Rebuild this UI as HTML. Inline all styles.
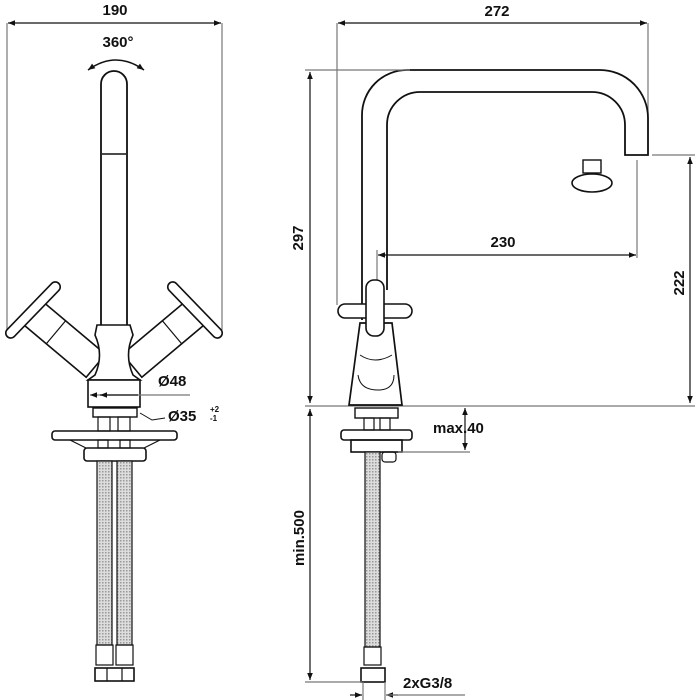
<!DOCTYPE html>
<html><head><meta charset="utf-8"><style>
html,body{margin:0;padding:0;background:#fff}
svg{display:block}
text{font-family:"Liberation Sans",Arial,sans-serif;font-weight:bold;fill:#111}
</style></head><body>
<svg width="700" height="700" viewBox="0 0 700 700" xmlns="http://www.w3.org/2000/svg">
<defs>
<pattern id="braid" width="3" height="3" patternUnits="userSpaceOnUse">
<rect width="3" height="3" fill="#ddd"/><rect width="1.5" height="1.5" fill="#999"/></pattern>
<marker id="ah" viewBox="0 0 10 10" refX="10" refY="5" markerWidth="9" markerHeight="7" orient="auto-start-reverse" markerUnits="userSpaceOnUse"><path d="M0,1 L10,5 L0,9 z" fill="#111"/></marker>
</defs>
<g stroke="#111" fill="none" stroke-width="1.2">
<!-- LEFT VIEW dims -->
<line x1="7" y1="23" x2="7" y2="330" stroke="#777"/>
<line x1="222" y1="23" x2="222" y2="330" stroke="#777"/>
<line x1="8" y1="23" x2="221" y2="23" marker-start="url(#ah)" marker-end="url(#ah)"/>
<path d="M88,70 Q116,50 144,70" stroke-width="1.5" marker-start="url(#ah)" marker-end="url(#ah)"/>
<!-- spout -->
<path d="M101,325 L101,84 A13,13 0 0 1 127,84 L127,325" stroke-width="1.8"/>
<line x1="102" y1="154" x2="126" y2="154" stroke-width="1.5"/>
<!-- left arm + handle -->
<g transform="translate(33,313) rotate(40)"><rect x="0" y="-15" width="82" height="30" fill="#fff" stroke-width="1.6"/><line x1="30" y1="-15" x2="30" y2="15"/></g>
<g transform="translate(33,310) rotate(-46)"><rect x="-37" y="-5" width="74" height="10" rx="5" fill="#fff" stroke-width="1.6"/></g>
<g transform="translate(195,313) rotate(140)"><rect x="0" y="-15" width="82" height="30" fill="#fff" stroke-width="1.6"/><line x1="30" y1="-15" x2="30" y2="15"/></g>
<g transform="translate(195,310) rotate(46)"><rect x="-37" y="-5" width="74" height="10" rx="5" fill="#fff" stroke-width="1.6"/></g>
<!-- body -->
<path d="M97,325 L130,325 L133,335 Q124,355 133,375 L140,380 L88,380 L95,375 Q104,355 95,335 Z" stroke-width="1.6" fill="#fff"/>
<rect x="88" y="380" width="52" height="27" stroke-width="1.6" fill="#fff"/>
<line x1="90" y1="395" x2="190" y2="395" stroke="#777" marker-start="url(#ah)"/>
<line x1="138" y1="395" x2="100" y2="395" marker-end="url(#ah)"/>
<rect x="93" y="408" width="44" height="9" stroke-width="1.4"/>
<rect x="98" y="417" width="12" height="14"/><rect x="118" y="417" width="12" height="14"/>
<rect x="52" y="431" width="125" height="9" rx="3" stroke-width="1.6"/>
<path d="M70,440 L86,448 M160,440 L144,448"/>
<rect x="98" y="440" width="10" height="8"/><rect x="120" y="440" width="10" height="8"/>
<rect x="84" y="448" width="62" height="13" rx="3" stroke-width="1.6"/>
<rect x="97" y="461" width="15" height="184" fill="url(#braid)"/>
<rect x="117" y="461" width="15" height="184" fill="url(#braid)"/>
<rect x="96" y="645" width="17" height="20"/><rect x="116" y="645" width="17" height="20"/>
<rect x="95" y="668" width="39" height="13" stroke-width="1.6"/>
<line x1="107" y1="668" x2="107" y2="681"/><line x1="122" y1="668" x2="122" y2="681"/>
<path d="M140,413 L152,420 L165,418" stroke-width="1"/>

<!-- RIGHT VIEW -->
<line x1="337" y1="23" x2="337" y2="305" stroke="#777"/>
<line x1="648" y1="23" x2="648" y2="153" stroke="#777"/>
<line x1="338" y1="23" x2="647" y2="23" marker-start="url(#ah)" marker-end="url(#ah)"/>
<path d="M362,320 L362,115 A45,45 0 0 1 407,70 L600,70 A48,48 0 0 1 648,118 L648,155 L625,155 L625,125 A33,33 0 0 0 592,92 L420,92 A33,33 0 0 0 387,125 L387,290" stroke-width="1.8"/>
<line x1="652" y1="155" x2="695" y2="155" stroke="#777"/>
<line x1="637" y1="160" x2="637" y2="258" stroke="#777"/>
<line x1="377" y1="250" x2="377" y2="282" stroke="#777"/>
<line x1="378" y1="255" x2="636" y2="255" marker-start="url(#ah)" marker-end="url(#ah)"/>
<rect x="583" y="160" width="18" height="13" stroke-width="1.4"/>
<ellipse cx="592" cy="183" rx="20" ry="9" stroke-width="1.6"/>
<line x1="305" y1="70" x2="410" y2="70" stroke="#777"/>
<line x1="310" y1="72" x2="310" y2="403" marker-start="url(#ah)" marker-end="url(#ah)"/>
<line x1="690" y1="157" x2="690" y2="403" marker-start="url(#ah)" marker-end="url(#ah)"/>
<line x1="305" y1="406" x2="695" y2="406" stroke="#777"/>
<!-- right body -->
<path d="M360,323 L392,323 L402,405 L349,405 Z" stroke-width="1.7" fill="#fff"/>
<path d="M360,355 Q375,365 392,355 M358,375 Q360,390 378,390 Q394,390 394,375" stroke-width="1"/>
<rect x="338" y="304" width="74" height="14" rx="7" fill="#fff" stroke-width="1.6"/>
<rect x="366" y="280" width="18" height="56" rx="8" fill="#fff" stroke-width="1.6"/>
<rect x="355" y="408" width="43" height="10" stroke-width="1.4"/>
<rect x="364" y="418" width="10" height="12"/><rect x="380" y="418" width="10" height="12"/>
<rect x="341" y="430" width="71" height="10" rx="3" stroke-width="1.6"/>
<rect x="351" y="440" width="51" height="12" stroke-width="1.6"/>
<line x1="398" y1="452" x2="470" y2="452" stroke="#777"/>
<line x1="465" y1="430" x2="465" y2="408" marker-end="url(#ah)"/>
<line x1="465" y1="430" x2="465" y2="450" marker-end="url(#ah)"/>
<rect x="365" y="452" width="15" height="195" fill="url(#braid)"/>
<rect x="382" y="452" width="14" height="10" rx="3"/>
<rect x="364" y="647" width="17" height="18"/>
<rect x="361" y="668" width="24" height="14" stroke-width="1.6"/>
<line x1="310" y1="409" x2="310" y2="680" marker-start="url(#ah)" marker-end="url(#ah)"/>
<line x1="305" y1="682" x2="362" y2="682" stroke="#777"/>
<line x1="363" y1="682" x2="363" y2="700" stroke="#777"/><line x1="385" y1="682" x2="385" y2="700" stroke="#777"/>
<line x1="350" y1="695" x2="362" y2="695" marker-end="url(#ah)"/>
<line x1="398" y1="695" x2="386" y2="695" marker-end="url(#ah)"/>
<line x1="386" y1="695" x2="465" y2="695" stroke="#777"/>
</g>
<g font-size="15">
<text x="115" y="15" text-anchor="middle">190</text>
<text x="118" y="47" text-anchor="middle">360°</text>
<text x="158" y="386">Ø48</text>
<text x="168" y="421">Ø35</text>
<text x="210" y="412" font-size="8">+2</text>
<text x="210" y="421" font-size="8">-1</text>
<text x="497" y="16" text-anchor="middle">272</text>
<text x="503" y="247" text-anchor="middle">230</text>
<text x="433" y="433">max.40</text>
<text x="403" y="688">2xG3/8</text>
<text transform="translate(303,238) rotate(-90)" text-anchor="middle">297</text>
<text transform="translate(684,283) rotate(-90)" text-anchor="middle">222</text>
<text transform="translate(304,538) rotate(-90)" text-anchor="middle">min.500</text>
</g>
</svg>
</body></html>
